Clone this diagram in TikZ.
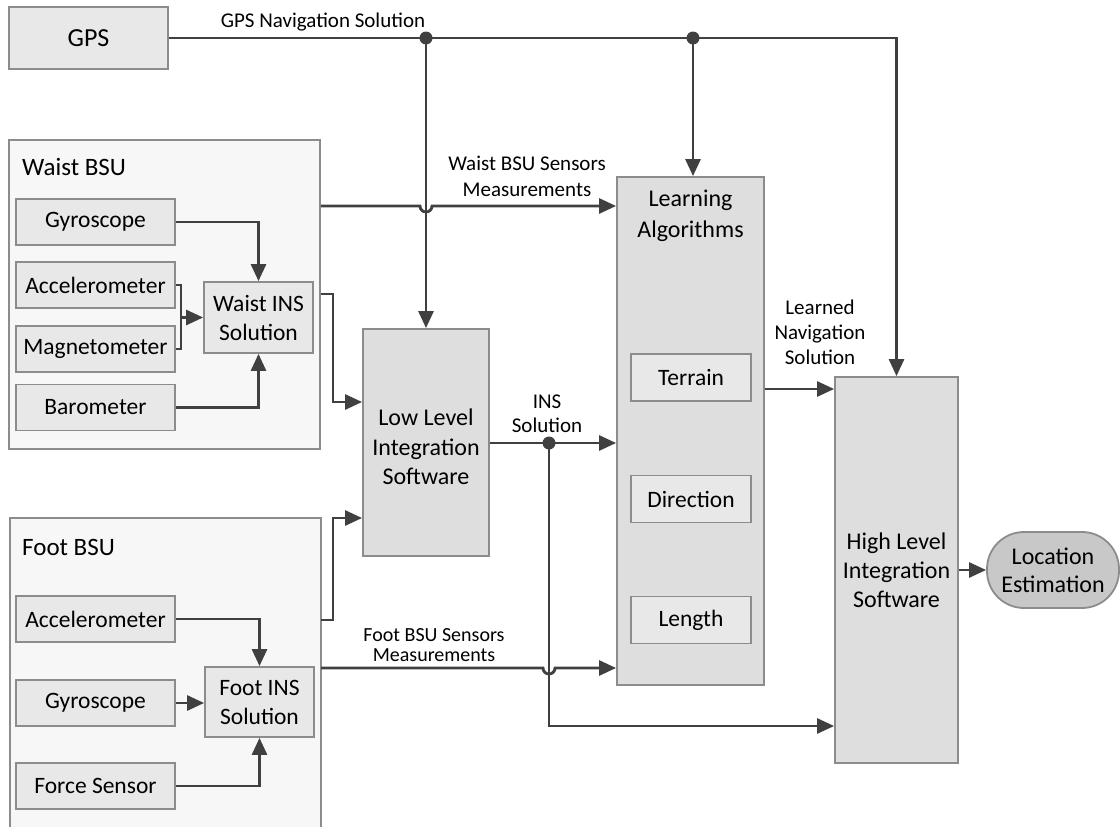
\documentclass[tikz,border=0pt]{standalone}
\usepackage{fontspec}
\setmainfont{Carlito}
\usetikzlibrary{arrows.meta,calc}

\definecolor{wire}{HTML}{404040}
\definecolor{edge}{HTML}{8C8C8C}
\definecolor{unitfill}{HTML}{F7F7F7}
\definecolor{lightfill}{HTML}{E8E8E8}
\definecolor{midfill}{HTML}{DEDEDE}
\definecolor{darkfill}{HTML}{C8C8C8}

\tikzset{
  unit/.style={draw=edge, line width=1.8pt, fill=unitfill, inner sep=0pt},
  sensor/.style={draw=edge, line width=1.8pt, fill=lightfill, inner sep=0pt,
    minimum width=159pt, minimum height=46pt, align=center,
    font=\fontsize{23.5}{29}\selectfont},
  stage/.style={draw=edge, line width=1.8pt, fill=midfill, inner sep=0pt,
    align=center, font=\fontsize{24}{29}\selectfont},
  sub/.style={draw=edge, line width=1.8pt, fill=lightfill, inner sep=0pt,
    minimum width=120pt, minimum height=47pt, font=\fontsize{23.5}{28}\selectfont},
  unitlabel/.style={anchor=west, inner sep=0pt, font=\fontsize{25}{29}\selectfont},
  flowlabel/.style={inner sep=0pt, align=center, font=\fontsize{21}{25}\selectfont},
  wireline/.style={draw=wire, line width=2.8pt},
  flow/.style={wireline, -{Triangle[length=17pt,width=15pt]}},
  junction/.style={circle, fill=wire, inner sep=0pt, minimum size=13pt},
}

\begin{document}
\begin{tikzpicture}[x=1pt, y=-1pt]
\useasboundingbox (0,0) rectangle (1120,827);

% ---- GPS receiver ----
\node[sensor, minimum width=159pt, minimum height=62pt,
      font=\fontsize{26}{30}\selectfont] (gps) at (88.5,38) {GPS};

% ---- waist body sensor unit ----
\node[unit, minimum width=311pt, minimum height=309pt] (waist) at (164.5,294.5) {};
\node[unitlabel] (waistlbl) at (22,167) {Waist BSU};
\node[sensor] (wgyro) at (95.5,222) {Gyroscope};
\node[sensor] (wacc)  at (95.5,285) {Accelerometer};
\node[sensor] (wmag)  at (95.5,349) {Magnetometer};
\node[sensor] (wbaro) at (95.5,407.5) {Barometer};
\node[sensor, minimum width=109pt, minimum height=71pt] (wins) at (258.5,317.5)
  {Waist INS\\Solution};

% ---- foot body sensor unit (runs past the lower edge) ----
\fill[unitfill] (10,518) rectangle (321,827);
\draw[edge, line width=1.8pt] (10,840) -- (10,518) -- (321,518) -- (321,840);
\coordinate (footE1) at (321,620);
\coordinate (footE2) at (321,668);
\node[unitlabel] (footlbl) at (22,547) {Foot BSU};
\node[sensor] (facc)   at (95.5,619) {Accelerometer};
\node[sensor] (fgyro)  at (95.5,703) {Gyroscope};
\node[sensor] (fforce) at (95.5,786) {Force Sensor};
\node[sensor, minimum width=109pt, minimum height=70pt] (fins) at (259.5,702)
  {Foot INS\\Solution};

% ---- processing stages ----
\node[stage, minimum width=126pt, minimum height=227pt] (low) at (426,442.5) {};
\node[flowlabel, font=\fontsize{24}{29.5}\selectfont] (lowlbl) at (426,447)
  {Low Level\\Integration\\Software};

\node[stage, minimum width=147pt, minimum height=508pt] (learn) at (690.5,431) {};
\node[flowlabel, font=\fontsize{24}{31}\selectfont] (learnlbl) at (690.5,216)
  {Learning\\Algorithms};
\node[sub] (terrain)   at (691,377.5) {Terrain};
\node[sub] (direction) at (691,499) {Direction};
\node[sub] (length)    at (691,620) {Length};

\node[stage, minimum width=123pt, minimum height=386pt] (high) at (896.5,570)
  {High Level\\Integration\\Software};

\node[draw=edge, line width=1.8pt, fill=darkfill, rounded corners=37pt,
      minimum width=132pt, minimum height=76pt, inner sep=0pt, align=center,
      font=\fontsize{24}{28}\selectfont] (loc) at (1053,570)
  {Location\\Estimation};

% ---- waist sensors into the waist INS ----
\draw[flow] (wgyro.east) -| (wins.north);
\draw[flow] (wbaro.east) -| (wins.south);
\draw[wireline] (wacc.east) -- ++(5,0) |- (wmag.east);
\draw[flow] (180,317.5) -- (wins.west);

% ---- foot sensors into the foot INS ----
\draw[flow] (facc.east) -| (fins.north);
\draw[flow] (fgyro.east) -- (fins.west |- fgyro.east);
\draw[flow] (fforce.east) -| (fins.south);

% ---- GPS distribution ----
\coordinate (j1) at (426,38);
\coordinate (j2) at (693,38);
\draw[flow] (gps.east) -| (high.north);
\draw[flow] (j1) -- (low.north);
\draw[flow] (j2) -- (j2 |- learn.north);
\node[junction] (dot1) at (j1) {};
\node[junction] (dot2) at (j2) {};
\node[flowlabel] (gpslbl) at (323,22) {GPS Navigation Solution};

% ---- waist unit outputs ----
\draw[flow] (waist.east |- 0,206) -- (420,206) arc[start angle=180, end angle=0, radius=6]
  -- (learn.west |- 0,206);
\node[flowlabel, font=\fontsize{21}{26}\selectfont] (waistmeas) at (527,176)
  {Waist BSU Sensors\\Measurements};
\draw[flow] (waist.east |- 0,294) -- (333,294) -- (333,402) -- (low.west |- 0,402);

% ---- foot unit outputs ----
\draw[flow] (footE1) -- (333,620) -- (333,518) -- (low.west |- 0,518);
\draw[flow] (footE2) -- (543,668) arc[start angle=180, end angle=0, radius=6]
  -- (learn.west |- 0,668);
\node[flowlabel, font=\fontsize{20}{20}\selectfont] (footmeas) at (434,645)
  {Foot BSU Sensors\\Measurements};

% ---- INS solution ----
\coordinate (j3) at (549,443);
\draw[flow] (low.east |- 0,443) -- (learn.west |- 0,443);
\draw[flow] (j3) -- (549,726) -- (high.west |- 0,726);
\node[junction] (dot3) at (j3) {};
\node[flowlabel, font=\fontsize{21}{24}\selectfont] (inslbl) at (547,414)
  {INS\\Solution};

% ---- learned solution and final estimate ----
\draw[flow] (learn.east |- 0,389) -- (high.west |- 0,389);
\node[flowlabel] (learnedlbl) at (820,332) {Learned\\Navigation\\Solution};
\draw[flow] (high.east) -- (loc.west);

\end{tikzpicture}
\end{document}
